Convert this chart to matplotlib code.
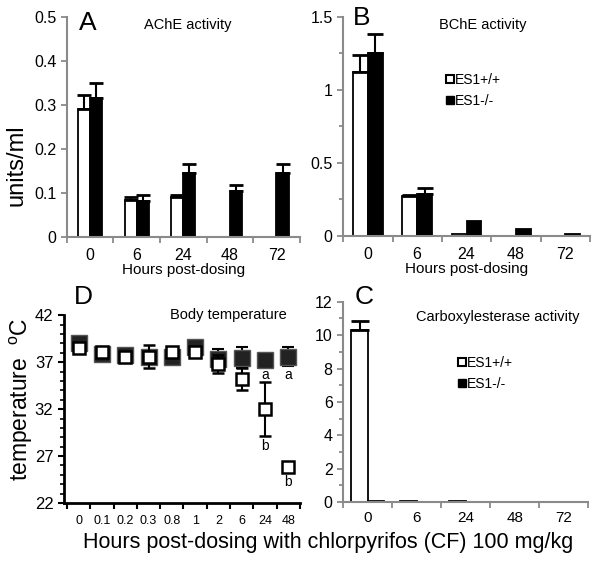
import matplotlib
matplotlib.use("Agg")
import matplotlib.pyplot as plt
import numpy as np
from matplotlib.lines import Line2D

plt.rcParams['font.family'] = ['Liberation Sans', 'DejaVu Sans']

hours = ['0', '6', '24', '48', '72']

# AChE activity (units/ml)
ache_wt = [0.29, 0.085, 0.092, 0, 0]
ache_wt_err = [0.032, 0.005, 0.003, 0, 0]
ache_ko = [0.315, 0.082, 0.145, 0.105, 0.145]
ache_ko_err = [0.035, 0.013, 0.02, 0.013, 0.02]

# BChE activity
bche_wt = [1.12, 0.27, 0.015, 0, 0]
bche_wt_err = [0.12, 0.01, 0, 0, 0]
bche_ko = [1.25, 0.29, 0.1, 0.05, 0.01]
bche_ko_err = [0.13, 0.04, 0, 0, 0]

# Carboxylesterase activity
ces_wt = [10.3, 0.1, 0.1, 0, 0]
ces_wt_err = [0.55, 0, 0, 0, 0]
ces_ko = [0.05, 0.02, 0.02, 0, 0]

# Body temperature
temp_hours = ['0', '0.1', '0.2', '0.3', '0.8', '1', '2', '6', '24', '48']
temp_wt = [38.5, 38.1, 37.6, 37.6, 38.1, 38.1, 36.8, 35.2, 32.0, 25.8]
temp_wt_err = [0.3, 0.3, 0.4, 1.2, 0.3, 0.3, 1.0, 1.2, 2.9, 0.3]
temp_ko = [39.0, 37.9, 37.8, 37.6, 37.6, 38.6, 37.3, 37.5, 37.2, 37.6]
temp_ko_err = [0.3, 0.3, 0.3, 0.4, 0.3, 0.3, 1.1, 1.1, 0.5, 1.0]
sig_letters = [(8, 35.6, 'a'), (9, 35.6, 'a'), (8, 28.1, 'b'), (9, 24.2, 'b')]

gray = '#8a8a8a'

fig = plt.figure(figsize=(6.02, 5.63), dpi=100)


def bar_panel(ax, wt, ko, wt_err, ko_err, width):
    x = np.arange(len(hours))
    ax.bar(x - width / 2, wt, width, color='white', edgecolor='black', linewidth=1.3)
    ax.bar(x + width / 2, ko, width, color='black', edgecolor='black', linewidth=1.3)
    for xi, v, e in zip(x - width / 2, wt, wt_err):
        if e > 0:
            ax.errorbar(xi, v, yerr=[[0], [e]], fmt='none', ecolor='black',
                        elinewidth=1.5, capsize=width * 20, capthick=2)
    for xi, v, e in zip(x + width / 2, ko, ko_err):
        if e > 0:
            ax.errorbar(xi, v, yerr=[[0], [e]], fmt='none', ecolor='black',
                        elinewidth=1.5, capsize=width * 20, capthick=2)
    ax.set_xlim(-0.5, 4.5)
    ax.set_xticks(x)
    ax.set_xticklabels(hours)
    ax.set_xticks(np.arange(-0.5, 5, 1), minor=True)
    ax.tick_params(axis='x', which='major', length=0, labelsize=11.5, pad=8)
    ax.tick_params(axis='x', which='minor', length=4, color=gray, width=1.3)
    ax.tick_params(axis='y', which='both', color=gray, width=1.3, labelsize=11.5)
    ax.tick_params(axis='y', which='major', length=4)
    ax.tick_params(axis='y', which='minor', length=3)
    for s in ['top', 'right']:
        ax.spines[s].set_visible(False)
    for s in ['left', 'bottom']:
        ax.spines[s].set_color(gray)
        ax.spines[s].set_linewidth(1.5)


handles = [Line2D([], [], marker='s', color='none', markerfacecolor='white',
                  markeredgecolor='black', markeredgewidth=1.5, markersize=5.5),
           Line2D([], [], marker='s', color='none', markerfacecolor='black',
                  markeredgecolor='black', markersize=5.5)]

# A
axA = fig.add_axes([0.111, 0.579, 0.387, 0.391])
bar_panel(axA, ache_wt, ache_ko, ache_wt_err, ache_ko_err, 0.26)
axA.set_ylim(0, 0.5)
axA.set_yticks([0, 0.1, 0.2, 0.3, 0.4, 0.5])
axA.set_yticklabels(['0', '0.1', '0.2', '0.3', '0.4', '0.5'])
axA.set_xlabel('Hours post-dosing', fontsize=11, labelpad=0)
fig.text(0.027, 0.707, 'units/ml', rotation=90, fontsize=17, ha='center', va='center')
fig.text(0.145, 0.959, 'A', fontsize=19, ha='center', va='center')
fig.text(0.312, 0.955, 'AChE activity', fontsize=10.5, ha='center', va='center')

# B
axB = fig.add_axes([0.570, 0.581, 0.410, 0.389])
bar_panel(axB, bche_wt, bche_ko, bche_wt_err, bche_ko_err, 0.3)
axB.set_ylim(0, 1.5)
axB.set_yticks([0, 0.5, 1, 1.5])
axB.set_yticklabels(['0', '0.5', '1', '1.5'])
axB.set_yticks([0.25, 0.75, 1.25], minor=True)
axB.set_xlabel('Hours post-dosing', fontsize=11, labelpad=0)
fig.text(0.601, 0.968, 'B', fontsize=19, ha='center', va='center')
fig.text(0.802, 0.955, 'BChE activity', fontsize=10.5, ha='center', va='center')
axB.legend(handles, ['ES1+/+', 'ES1-/-'], loc='upper left',
           bbox_to_anchor=(0.37, 0.80), frameon=False, handlelength=0.5,
           handletextpad=0.1, fontsize=10, labelspacing=0.5)

# C
axC = fig.add_axes([0.570, 0.108, 0.407, 0.356])
bar_panel(axC, ces_wt, ces_ko, ces_wt_err, [0] * 5, 0.33)
axC.set_ylim(0, 12)
axC.set_yticks(np.arange(0, 13, 2))
axC.set_yticks(np.arange(1, 12, 2), minor=True)
axC.tick_params(axis='x', which='major', labelsize=11, pad=6)
fig.text(0.605, 0.4725, 'C', fontsize=19, ha='center', va='center')
fig.text(0.827, 0.437, 'Carboxylesterase activity', fontsize=10.5, ha='center', va='center')
axC.legend(handles, ['ES1+/+', 'ES1-/-'], loc='upper left',
           bbox_to_anchor=(0.42, 0.79), frameon=False, handlelength=0.5,
           handletextpad=0.1, fontsize=10, labelspacing=0.5)

# D
axD = fig.add_axes([0.106, 0.1066, 0.392, 0.3334])
xt = np.arange(len(temp_hours))
axD.errorbar(xt, temp_ko, yerr=temp_ko_err, fmt='s', color='black',
             markerfacecolor='#222222', markeredgecolor='#555555',
             markersize=11, ecolor='black', elinewidth=1.5, capsize=4.5,
             capthick=1.5, zorder=2)
axD.errorbar(xt, temp_wt, yerr=temp_wt_err, fmt='s', color='black',
             markerfacecolor='white', markeredgecolor='black',
             markeredgewidth=1.8, markersize=9, ecolor='black',
             elinewidth=1.5, capsize=4.5, capthick=1.5, zorder=3)
for xi, yi, s in sig_letters:
    axD.text(xi, yi, s, fontsize=10, ha='center', va='center')
axD.set_xlim(-0.64, 9.47)
axD.set_ylim(22, 42)
axD.set_xticks(xt)
axD.set_xticklabels(temp_hours)
axD.set_xticks(np.arange(-0.5, 10, 1), minor=True)
axD.set_yticks([22, 27, 32, 37, 42])
axD.set_yticks(np.arange(22, 43, 1), minor=True)
axD.tick_params(axis='x', which='major', length=0, labelsize=9, pad=9)
axD.tick_params(axis='x', which='minor', length=4, width=1.5)
axD.tick_params(axis='y', which='major', length=4, width=1.5, labelsize=12)
axD.tick_params(axis='y', which='minor', length=3, width=1.2)
for s in ['top', 'right']:
    axD.spines[s].set_visible(False)
for s in ['left', 'bottom']:
    axD.spines[s].set_linewidth(2)
fig.text(0.036, 0.29, 'temperature  $^\\mathregular{o}$C', rotation=90,
         fontsize=16.5, ha='center', va='center')
fig.text(0.138, 0.4725, 'D', fontsize=19, ha='center', va='center')
fig.text(0.379, 0.44, 'Body temperature', fontsize=10.5, ha='center', va='center')

fig.text(0.545, 0.037, 'Hours post-dosing with chlorpyrifos (CF) 100 mg/kg',
         fontsize=15.5, ha='center', va='center')

plt.savefig('out.png', dpi=100)
